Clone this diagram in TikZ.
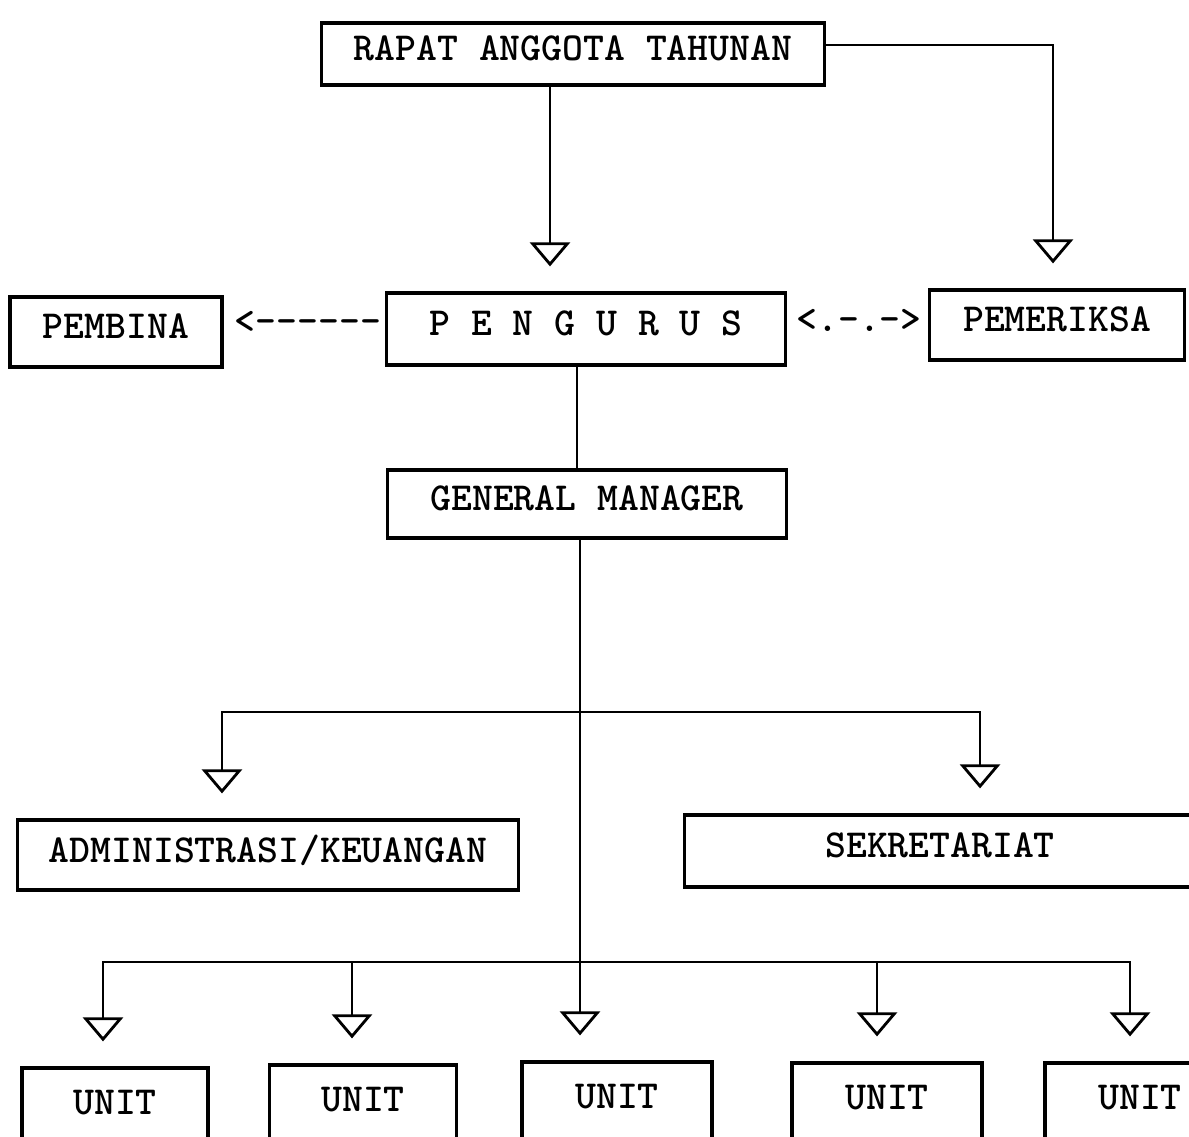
\documentclass[tikz,border=0pt]{standalone}
\usepackage{fontspec}
\usetikzlibrary{arrows.meta}
\tikzset{
  kotak/.style={draw, line width=0.9pt, inner sep=0pt, text depth=1.2mm,
    font=\fontsize{11.3}{13}\selectfont\ttfamily\bfseries},
  garis/.style={line width=0.8pt},
  panah/.style={garis, -{Triangle[open, width=4mm, length=2.4mm, line width=0.8pt]}, shorten >=2.5mm},
  teks/.style={font=\fontsize{11.3}{13}\selectfont\ttfamily\bfseries}
}
\begin{document}
\begin{tikzpicture}[x=0.01cm, y=-0.01cm]
    \useasboundingbox (0,0) rectangle (1189,1136);
    % kotak-kotak
    \node[kotak, minimum width=5.02cm, minimum height=0.62cm] (rat) at (573,54) {RAPAT ANGGOTA TAHUNAN};
    \node[kotak, minimum width=2.12cm, minimum height=0.70cm] (pembina) at (116,332) {PEMBINA};
    \node[kotak, minimum width=3.98cm, minimum height=0.72cm] (pengurus) at (586,329) {P E N G U R U S};
    \node[kotak, minimum width=2.55cm, minimum height=0.70cm] (pemeriksa) at (1057,325) {PEMERIKSA};
    \node[kotak, minimum width=3.99cm, minimum height=0.68cm] (gm) at (587,504) {GENERAL MANAGER};
    \node[kotak, minimum width=5.00cm, minimum height=0.70cm] (admin) at (268,855) {ADMINISTRASI/KEUANGAN};
    \node[kotak, minimum width=5.10cm, minimum height=0.72cm] (sekr) at (940,851) {SEKRETARIAT};
    \node[kotak, minimum width=1.86cm, minimum height=0.80cm] (u1) at (115,1108) {UNIT};
    \node[kotak, minimum width=1.87cm, minimum height=0.80cm] (u2) at (363,1105) {UNIT};
    \node[kotak, minimum width=1.90cm, minimum height=0.80cm] (u3) at (617,1102) {UNIT};
    \node[kotak, minimum width=1.90cm, minimum height=0.80cm] (u4) at (887,1103) {UNIT};
    \node[kotak, minimum width=1.90cm, minimum height=0.80cm] (u5) at (1140,1103) {UNIT};
    % tanda panah ketik
    \node[teks] (kiri) at (308,322) {<------};
    \node[teks] (kanan) at (859,320) {<.-.->};
    % garis
    \draw[panah] ([xshift=-2.3mm]rat.south) -- ([xshift=-2.3mm]rat.south |- pengurus.north);
    \draw[panah] ([yshift=0.9mm]rat.east) -| ([xshift=-0.4mm]pemeriksa.north);
    \draw[garis] ([xshift=-0.9mm]pengurus.south) -- ([xshift=-0.9mm]pengurus.south |- gm.north);
    \draw[panah] ([xshift=-0.7mm]gm.south) -- ([xshift=-0.7mm]gm.south |- u3.north);
    \coordinate (j1) at (580,712);
    \coordinate (j2) at (580,962);
    \draw[panah] (j1) -| ([xshift=-4.6mm]admin.north);
    \draw[panah] (j1) -| ([xshift=4mm]sekr.north);
    \draw[panah] (j2) -| ([xshift=-1.2mm]u1.north);
    \draw[panah] (j2) -| ([xshift=-1.1mm]u2.north);
    \draw[panah] (j2) -| ([xshift=-1mm]u4.north);
    \draw[panah] (j2) -| ([xshift=-1mm]u5.north);
\end{tikzpicture}
\end{document}
